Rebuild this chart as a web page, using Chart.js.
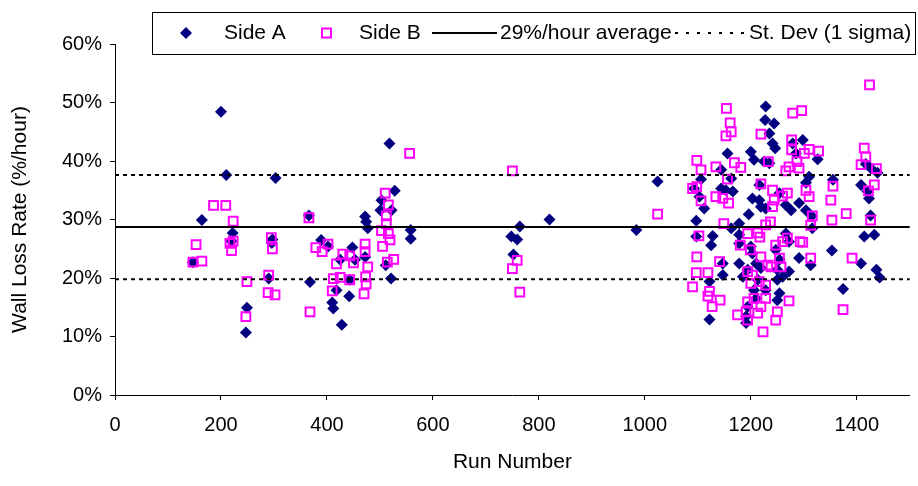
<!DOCTYPE html>
<html>
<head>
<meta charset="utf-8">
<script src="https://cdn.jsdelivr.net/npm/chart.js@4.4.1/dist/chart.umd.min.js"></script>
<style>
  html, body { margin: 0; padding: 0; background: #fff; }
  #wrap { width: 918px; height: 486px; }
</style>
</head>
<body>
<div id="wrap"><canvas id="myChart" width="918" height="486"></canvas></div>
<script>
// Side A (diamonds): run number / wall loss rate (%/hour)
const sideARun = [
  147, 164, 200, 210, 222, 220, 249, 247, 303, 297, 296, 290, 366, 368, 389, 402,
  410, 412, 418, 428, 425, 442, 443, 448, 453, 472, 474, 477, 472, 501, 503, 511,
  521, 522, 528, 518, 558, 558, 748, 752, 759, 764, 820, 984, 1024,
  1228, 1227, 1244, 1235, 1241, 1246, 1200, 1206, 1156, 1225, 1235, 1279, 1285, 1298,
  1144, 1163, 1106, 1093, 1103, 1112, 1144, 1153, 1166, 1216, 1216, 1228, 1203, 1254,
  1266, 1276, 1291, 1196, 1178, 1163, 1178, 1097, 1128, 1125, 1097, 1178, 1200, 1203,
  1266, 1272, 1247, 1254, 1250, 1291, 1147, 1147, 1178, 1194, 1210, 1219, 1185, 1213,
  1206, 1228, 1122, 1250, 1260, 1272, 1250, 1254, 1194, 1191, 1191, 1122, 1210, 1219,
  1326, 1310, 1304, 1355, 1417, 1426, 1439, 1408, 1420, 1423, 1426, 1304, 1315, 1316,
  1414, 1433, 1353, 1313, 1408, 1437, 1443, 1374
];
const sideAVal = [
  22.7, 29.9, 48.4, 37.6, 27.7, 26.3, 14.9, 10.7, 37.1, 26.6, 26.0, 19.9, 30.7, 19.3, 26.5, 25.4,
  15.8, 14.8, 17.9, 12.0, 23.1, 16.9, 19.7, 25.2, 23.1, 30.5, 29.6, 28.5, 23.6, 31.6, 33.3, 22.2,
  19.9, 31.6, 34.9, 43.0, 28.2, 26.7, 27.1, 24.0, 26.6, 28.8, 30.0, 28.2, 36.5,
  49.3, 47.0, 46.4, 44.7, 43.0, 42.2, 41.6, 40.2, 41.3, 39.9, 39.6, 43.0, 41.3, 43.6,
  38.5, 37.0, 36.9, 35.3, 33.9, 31.9, 35.3, 35.0, 34.8, 35.9, 33.3, 31.9, 33.6, 34.5,
  32.5, 31.6, 32.8, 30.9, 29.3, 28.5, 27.4, 29.8, 27.2, 25.6, 27.1, 25.9, 25.4, 24.2,
  27.6, 26.2, 24.8, 23.1, 21.4, 23.4, 22.5, 20.5, 22.5, 21.4, 22.5, 21.7, 20.2, 19.7,
  17.9, 17.9, 19.4, 19.7, 20.2, 21.1, 16.2, 17.4, 15.1, 13.4, 12.3, 12.9, 16.5, 32.2,
  40.3, 37.3, 36.3, 36.8, 39.5, 38.8, 38.0, 35.9, 34.8, 33.6, 30.7, 31.6, 30.6, 28.5,
  27.1, 27.4, 24.7, 22.2, 22.5, 21.4, 20.1, 18.1
];

// Side B (open squares)
const sideBRun = [
  147, 164, 153, 186, 209, 223, 217, 223, 220, 249, 247, 295, 297, 290, 289, 302,
  366, 368, 379, 391, 402, 410, 412, 418, 425, 430, 443, 443, 450, 472, 472, 477,
  473, 474, 470, 510, 516, 512, 512, 503, 516, 519, 505, 526, 514, 556, 750, 759,
  750, 764, 1024,
  1154, 1161, 1163, 1153, 1219, 1279, 1296, 1277, 1277, 1098, 1106, 1134, 1169, 1181,
  1233, 1266, 1272, 1287, 1291, 1156, 1219, 1241, 1244, 1241, 1269, 1260, 1090, 1098,
  1106, 1134, 1147, 1158, 1149, 1102, 1194, 1213, 1217, 1228, 1237, 1180, 1199, 1219,
  1247, 1260, 1269, 1254, 1257, 1232, 1238, 1293, 1098, 1141, 1097, 1119, 1090, 1122,
  1119, 1142, 1127, 1194, 1203, 1200, 1216, 1228, 1194, 1206, 1228, 1272, 1175, 1191,
  1194, 1213, 1219, 1247, 1250, 1223,
  1424, 1310, 1328, 1301, 1414, 1417, 1408, 1437, 1433, 1422, 1355, 1304, 1310, 1351,
  1380, 1353, 1316, 1313, 1426, 1298, 1313, 1391, 1374
];
const sideBVal = [
  22.7, 22.9, 25.7, 32.4, 32.4, 29.7, 25.9, 26.3, 24.7, 19.4, 13.4, 26.9, 25.0, 20.5, 17.5, 17.1,
  30.3, 14.2, 25.2, 24.5, 25.8, 17.8, 19.9, 22.4, 20.1, 24.1, 23.8, 19.7, 22.6, 25.8, 24.5, 21.9,
  20.2, 19.0, 17.3, 34.5, 32.5, 30.6, 29.3, 28.1, 27.6, 26.5, 25.4, 23.2, 22.7, 41.3, 38.3, 23.0,
  21.6, 17.6, 30.9,
  49.0, 46.5, 45.0, 44.3, 44.6, 48.2, 48.6, 43.6, 41.9, 40.1, 38.5, 39.0, 39.7, 38.9,
  39.9, 38.3, 39.0, 39.9, 38.8, 36.9, 36.1, 35.0, 33.3, 32.2, 34.5, 34.0, 35.3, 35.6,
  33.2, 33.9, 33.6, 32.8, 29.3, 27.2, 27.6, 27.7, 27.0, 29.1, 29.6, 25.6, 24.8, 23.6,
  25.6, 26.2, 26.8, 23.4, 21.9, 22.2, 21.9, 26.2, 23.6, 22.8, 20.9, 20.9, 18.5, 17.7,
  16.9, 16.2, 15.1, 21.1, 20.5, 19.1, 19.4, 18.8, 15.9, 16.5, 16.5, 16.1, 13.7, 14.2,
  12.8, 14.0, 15.1, 12.8, 14.2, 10.8,
  53.0, 42.0, 41.7, 41.3, 42.2, 40.7, 39.4, 38.7, 35.9, 34.9, 35.7, 35.0, 33.9, 33.3,
  31.0, 29.9, 30.6, 29.0, 29.9, 26.1, 23.4, 23.4, 14.6
];

const averageRate = 28.7;   // %/hour
const sigma = 8.9;          // 1 sigma
const runRange = [0, 1500];
const legendLabels = ['Side A', 'Side B', '29%/hour average', 'St. Dev (1 sigma)'];

const NAVY = '#000080';
const MAGENTA = '#FF00FF';
const FONT = "'Liberation Sans', Arial, sans-serif";

function toPoints(xs, ys) {
  return xs.map((x, i) => ({ x: x, y: ys[i] }));
}
function flatLine(v) {
  return [{ x: runRange[0], y: v }, { x: runRange[1], y: v }];
}

// legend box drawn on the canvas, inside the top of the plot
const legendBox = {
  id: 'legendBox',
  afterDraw(chart) {
    const ctx = chart.ctx;
    const y = 33;
    ctx.save();
    ctx.fillStyle = '#fff';
    ctx.fillRect(152, 12, 764, 43);
    ctx.strokeStyle = '#000';
    ctx.lineWidth = 1;
    ctx.strokeRect(152.5, 12.5, 763, 42);

    ctx.fillStyle = NAVY;
    ctx.beginPath();
    ctx.moveTo(186, y - 6);
    ctx.lineTo(192, y);
    ctx.lineTo(186, y + 6);
    ctx.lineTo(180, y);
    ctx.closePath();
    ctx.fill();

    ctx.strokeStyle = MAGENTA;
    ctx.lineWidth = 2;
    ctx.strokeRect(322, y - 4.5, 9, 9);

    ctx.strokeStyle = '#000';
    ctx.beginPath();
    ctx.moveTo(432, y);
    ctx.lineTo(497, y);
    ctx.stroke();

    ctx.setLineDash([3, 8]);
    ctx.beginPath();
    ctx.moveTo(675, y);
    ctx.lineTo(747, y);
    ctx.stroke();
    ctx.setLineDash([]);

    ctx.fillStyle = '#000';
    ctx.font = '21px ' + FONT;
    ctx.textBaseline = 'middle';
    ctx.textAlign = 'left';
    ctx.fillText(legendLabels[0], 224, y);
    ctx.fillText(legendLabels[1], 359, y);
    ctx.fillText(legendLabels[2], 500, y);
    ctx.fillText(legendLabels[3], 749, y);
    ctx.restore();
  }
};

const ctx = document.getElementById('myChart');
new Chart(ctx, {
  type: 'scatter',
  data: {
    datasets: [
      {
        label: legendLabels[2],
        data: flatLine(averageRate),
        showLine: true,
        borderColor: '#000',
        borderWidth: 2,
        pointRadius: 0,
        order: 1
      },
      {
        label: legendLabels[3],
        data: flatLine(averageRate + sigma),
        showLine: true,
        borderColor: '#000',
        borderWidth: 2,
        borderDash: [4, 4],
        pointRadius: 0,
        order: 1
      },
      {
        label: legendLabels[3] + ' low',
        data: flatLine(averageRate - sigma),
        showLine: true,
        borderColor: '#000',
        borderWidth: 2,
        borderDash: [4, 4],
        pointRadius: 0,
        order: 1
      },
      {
        label: legendLabels[1],
        data: toPoints(sideBRun, sideBVal),
        pointStyle: 'rect',
        pointRadius: 6.2,
        borderWidth: 2,
        borderColor: MAGENTA,
        backgroundColor: 'rgba(0,0,0,0)',
        order: 2
      },
      {
        label: legendLabels[0],
        data: toPoints(sideARun, sideAVal),
        pointStyle: 'rectRot',
        pointRadius: 6,
        borderWidth: 0,
        borderColor: NAVY,
        backgroundColor: NAVY,
        order: 3
      }
    ]
  },
  options: {
    responsive: false,
    animation: false,
    events: [],
    layout: { padding: { top: 44, right: 7, left: 0, bottom: 0 } },
    plugins: {
      legend: { display: false },
      tooltip: { enabled: false }
    },
    scales: {
      x: {
        type: 'linear',
        min: runRange[0],
        max: runRange[1],
        afterFit(scale) { scale.height = 91; },
        grid: { drawOnChartArea: false, drawTicks: true, tickLength: 5, color: '#000' },
        border: { display: true, color: '#000', width: 1 },
        ticks: {
          stepSize: 200,
          includeBounds: false,
          padding: 13,
          color: '#000',
          font: { family: FONT, size: 20 },
          callback: v => String(v)
        },
        title: {
          display: true,
          text: 'Run Number',
          color: '#000',
          font: { family: FONT, size: 21 },
          padding: { top: 0, bottom: 11 }
        }
      },
      y: {
        type: 'linear',
        min: 0,
        max: 60,
        afterFit(scale) { scale.width = 115; },
        grid: { drawOnChartArea: false, drawTicks: true, tickLength: 5, color: '#000' },
        border: { display: true, color: '#000', width: 1 },
        ticks: {
          stepSize: 10,
          padding: 8,
          color: '#000',
          font: { family: FONT, size: 20 },
          callback: v => v + '%'
        },
        title: {
          display: true,
          text: 'Wall Loss Rate (%/hour)',
          color: '#000',
          font: { family: FONT, size: 21 },
          padding: { top: 8, bottom: 0 }
        }
      }
    }
  },
  plugins: [legendBox]
});
</script>
</body>
</html>
